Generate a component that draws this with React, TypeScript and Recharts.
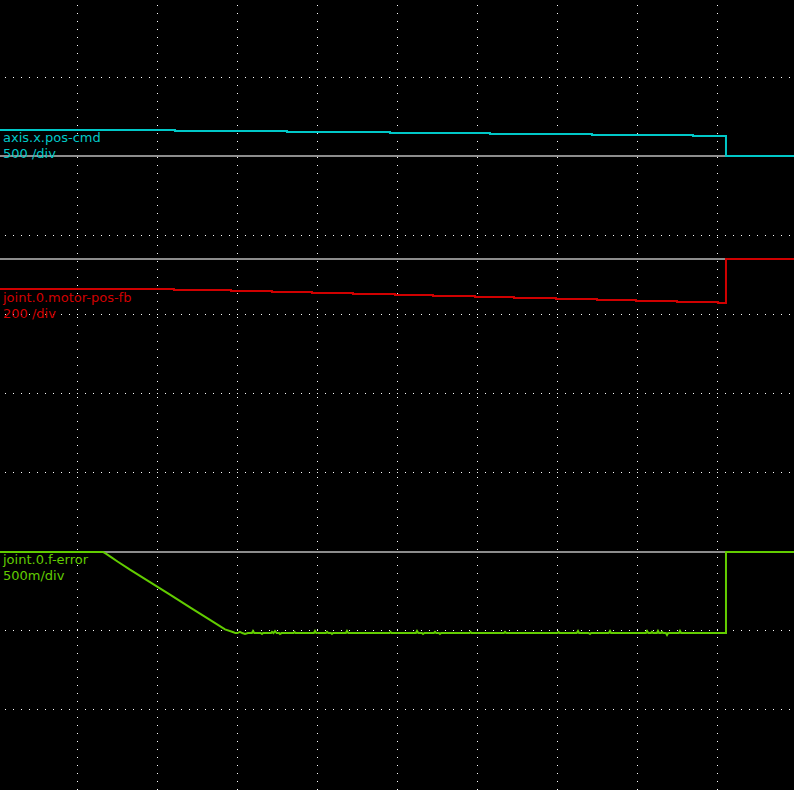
import React from 'react';
import { LineChart, Line, XAxis, YAxis, CartesianGrid } from 'recharts';

// halscope capture: 10 horizontal divisions (time in div), 10 vertical divisions
const GRID_X_TICKS = [1, 2, 3, 4, 5, 6, 7, 8, 9];
const GRID_Y_TICKS = [1, 2, 3, 4, 5, 6, 7, 8, 9];

// axis.x.pos-cmd (500 /div)
const CMD_T = [0, 2.219, 3.619, 4.906, 6.156, 7.431, 8.694, 9.106, 10];
const CMD_V = [164.6, 158.2, 151.9, 145.6, 139.2, 132.9, 126.6, 0, 0];

// joint.0.motor-pos-fb (200 /div)
const FB_T = [
  0, 2.206, 2.919, 3.431, 3.931, 4.444, 4.969, 5.444, 5.969, 6.456, 6.981, 7.494,
  7.981, 8.494, 9.006, 9.106, 10,
];
const FB_V = [
  -75.9, -78.5, -81.0, -83.5, -86.1, -88.6, -91.1, -93.7, -96.2, -98.7, -101.3,
  -103.8, -106.3, -108.9, -111.4, 0, 0,
];

// joint.0.f-error (500m /div)
const FERR_T = [
  0, 1.319, 1.36, 1.42, 1.5, 1.656, 1.906, 2.156, 2.406, 2.656, 2.844, 2.95, 2.975,
  3.0, 3.03, 3.06, 3.094, 3.13, 3.18, 3.194, 3.21, 3.29, 3.306, 3.32, 3.42, 3.431,
  3.45, 3.469, 3.49, 3.52, 3.531, 3.55, 3.7, 3.712, 3.725, 3.955, 3.969, 3.985,
  4.105, 4.119, 4.135, 4.168, 4.181, 4.195, 4.355, 4.369, 4.385, 4.9, 4.912, 4.925,
  5.23, 5.244, 5.26, 5.305, 5.319, 5.335, 5.455, 5.469, 5.485, 5.518, 5.531, 5.545,
  5.9, 5.912, 5.925, 6.33, 6.344, 6.36, 7.0, 7.012, 7.025, 7.24, 7.256, 7.27, 7.39,
  7.406, 7.42, 7.64, 7.656, 7.67, 8.105, 8.119, 8.135, 8.168, 8.181, 8.195, 8.243,
  8.256, 8.27, 8.293, 8.306, 8.32, 8.355, 8.369, 8.383, 8.518, 8.531, 8.545, 9.106,
  9.106, 10,
];
const FERR_V = [
  0, 0, -0.012, -0.032, -0.06, -0.112, -0.19, -0.27, -0.35, -0.43, -0.49, -0.508, -0.513,
  -0.513, -0.506, -0.513, -0.519, -0.513, -0.513, -0.5, -0.513, -0.513, -0.519, -0.513, -0.513, -0.506,
  -0.513, -0.5, -0.513, -0.513, -0.519, -0.513, -0.513, -0.506, -0.513, -0.513, -0.5, -0.513,
  -0.513, -0.506, -0.513, -0.513, -0.519, -0.513, -0.513, -0.5, -0.513, -0.513, -0.506, -0.513,
  -0.513, -0.5, -0.513, -0.513, -0.519, -0.513, -0.513, -0.506, -0.513, -0.513, -0.519, -0.513,
  -0.513, -0.506, -0.513, -0.513, -0.506, -0.513, -0.513, -0.506, -0.513, -0.513, -0.5, -0.513, -0.513,
  -0.519, -0.513, -0.513, -0.5, -0.513, -0.513, -0.5, -0.513, -0.513, -0.506, -0.513, -0.513,
  -0.5, -0.513, -0.513, -0.506, -0.513, -0.513, -0.525, -0.513, -0.513, -0.5, -0.513, -0.513,
  0, 0,
];

const BASE_T = [0, 10];
const BASE_V = [0, 0];

const zip = (ts: number[], vs: number[]) => ts.map((t, i) => ({ t, v: vs[i] }));

const cmdData = zip(CMD_T, CMD_V);
const fbData = zip(FB_T, FB_V);
const ferrData = zip(FERR_T, FERR_V);
const baseData = zip(BASE_T, BASE_V);

const CYAN = '#00c8c8';
const RED = '#d00000';
const GREEN = '#62cc00';
const BASE = '#8c8c8c';

const labelStyle: React.CSSProperties = {
  position: 'absolute',
  left: 3,
  fontFamily: '"DejaVu Sans", sans-serif',
  fontSize: 13,
  lineHeight: '16px',
  whiteSpace: 'pre',
};

const App: React.FC = () => {
  return (
    <div
      style={{
        position: 'fixed',
        left: 0,
        top: 0,
        width: 794,
        height: 790,
        background: '#000',
        overflow: 'hidden',
      }}
    >
      <LineChart
        width={794}
        height={790}
        margin={{ top: 0, right: 0, bottom: 0, left: 0 }}
        style={{ background: '#000' }}
      >
        <XAxis
          type="number"
          dataKey="t"
          domain={[0.03125, 9.95625]}
          ticks={GRID_X_TICKS}
          allowDataOverflow
          hide
        />
        <YAxis
          yAxisId="grid"
          type="number"
          domain={[0.018987, 10.018987]}
          ticks={GRID_Y_TICKS}
          reversed
          allowDataOverflow
          hide
        />
        <YAxis yAxisId="cmd" type="number" domain={[-4012.66, 987.34]} allowDataOverflow hide />
        <YAxis yAxisId="fb" type="number" domain={[-1344.3, 655.7]} allowDataOverflow hide />
        <YAxis yAxisId="ferr" type="number" domain={[-1.5063, 3.4937]} allowDataOverflow hide />
        <CartesianGrid
          yAxisId="grid"
          stroke="#ffffff"
          strokeWidth={1}
          strokeDasharray="0 5 1 2"
          fill="none"
          syncWithTicks
          verticalValues={GRID_X_TICKS}
          horizontalValues={GRID_Y_TICKS}
        />

        {/* zero lines */}
        <Line yAxisId="cmd" data={baseData} dataKey="v" stroke={BASE} strokeWidth={2} dot={false} activeDot={false} isAnimationActive={false} />
        <Line yAxisId="fb" data={baseData} dataKey="v" stroke={BASE} strokeWidth={2} dot={false} activeDot={false} isAnimationActive={false} />
        <Line yAxisId="ferr" data={baseData} dataKey="v" stroke={BASE} strokeWidth={2} dot={false} activeDot={false} isAnimationActive={false} />

        <Line yAxisId="cmd" data={cmdData} dataKey="v" type="stepAfter" stroke={CYAN} strokeWidth={2} dot={false} activeDot={false} isAnimationActive={false} />
        <Line yAxisId="fb" data={fbData} dataKey="v" type="stepAfter" stroke={RED} strokeWidth={2} dot={false} activeDot={false} isAnimationActive={false} />
        <Line yAxisId="ferr" data={ferrData} dataKey="v" type="linear" stroke={GREEN} strokeWidth={2} dot={false} activeDot={false} isAnimationActive={false} />
      </LineChart>

      <div style={{ ...labelStyle, top: 130, color: CYAN }}>
        {'axis.x.pos-cmd\n500 /div'}
      </div>
      <div style={{ ...labelStyle, top: 290, color: RED }}>
        {'joint.0.motor-pos-fb\n200 /div'}
      </div>
      <div style={{ ...labelStyle, top: 552, color: GREEN }}>
        {'joint.0.f-error\n500m/div'}
      </div>
    </div>
  );
};

export default App;
